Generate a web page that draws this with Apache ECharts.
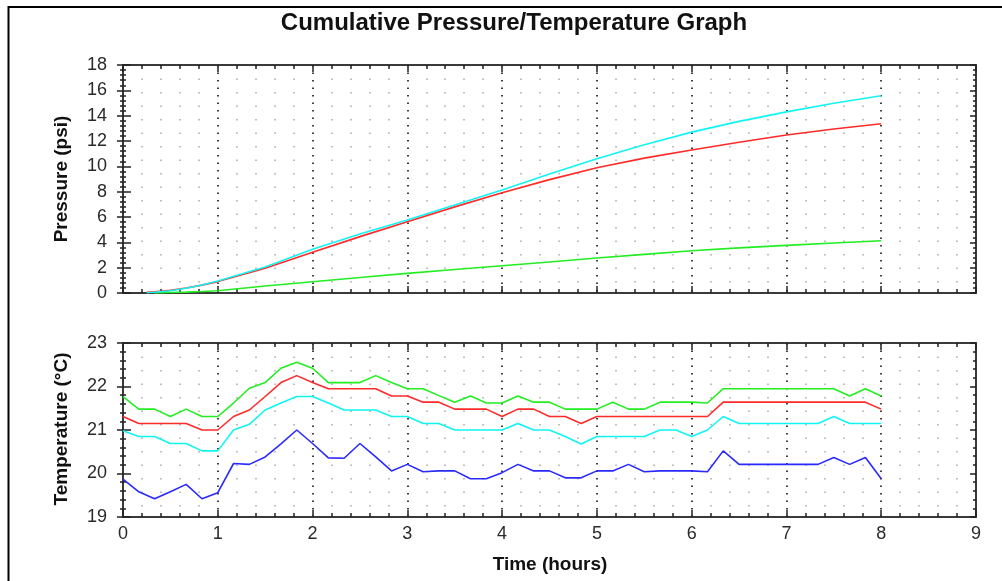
<!DOCTYPE html>
<html><head><meta charset="utf-8">
<script src="https://cdn.jsdelivr.net/npm/echarts@6/dist/echarts.min.js"></script>
<style>html,body{margin:0;padding:0;background:#fff}#c{width:1002px;height:581px}</style>
</head><body><div id="c"></div>
<script>
// ---- data ----
const pressureHours = [0.25,0.333,0.5,0.667,0.833,1,1.5,2,2.5,3,3.5,4,4.5,5,5.5,6,6.5,7,7.5,8];
const pressureCyan  = [0.02,0.06,0.18,0.38,0.63,0.95,2.05,3.45,4.65,5.76,6.95,8.13,9.4,10.6,11.7,12.7,13.55,14.3,14.98,15.57];
const pressureRed   = [0.05,0.1,0.22,0.4,0.62,0.9,1.95,3.21,4.45,5.63,6.8,7.92,8.95,9.89,10.65,11.29,11.9,12.47,12.95,13.36];
const pressureGreen = [null,0.01,0.04,0.07,0.12,0.18,0.55,0.89,1.22,1.55,1.85,2.15,2.45,2.76,3.05,3.34,3.56,3.76,3.95,4.13];

const tempMinutes = [0,10,20,30,40,50,60,70,80,90,100,110,120,130,140,150,160,170,180,190,200,210,220,230,240,250,260,270,280,290,300,310,320,330,340,350,360,370,380,390,400,410,420,430,440,450,460,470,480];
const tempGreen = [21.77,21.48,21.48,21.31,21.48,21.31,21.31,21.62,21.96,22.09,22.42,22.56,22.42,22.09,22.09,22.09,22.25,22.09,21.95,21.95,21.79,21.64,21.78,21.62,21.62,21.78,21.64,21.64,21.48,21.48,21.48,21.64,21.48,21.48,21.64,21.64,21.64,21.62,21.95,21.95,21.95,21.95,21.95,21.95,21.95,21.95,21.78,21.95,21.78];
const tempRed   = [21.31,21.15,21.15,21.15,21.15,21.0,21.0,21.31,21.46,21.77,22.09,22.25,22.09,21.95,21.95,21.95,21.95,21.78,21.78,21.64,21.64,21.48,21.48,21.48,21.31,21.48,21.48,21.31,21.31,21.15,21.31,21.31,21.31,21.31,21.31,21.31,21.31,21.31,21.64,21.64,21.64,21.64,21.64,21.64,21.64,21.64,21.64,21.64,21.48];
const tempCyan  = [20.98,20.85,20.85,20.69,20.69,20.52,20.52,21.0,21.13,21.46,21.62,21.77,21.77,21.62,21.46,21.46,21.46,21.31,21.31,21.15,21.15,21.0,21.0,21.0,21.0,21.15,21.0,21.0,20.85,20.68,20.85,20.85,20.85,20.85,21.0,21.0,20.85,21.0,21.31,21.15,21.15,21.15,21.15,21.15,21.15,21.31,21.15,21.15,21.15];
const tempBlue  = [19.87,19.58,19.42,19.58,19.75,19.42,19.56,20.23,20.21,20.38,20.68,21.0,20.69,20.36,20.35,20.69,20.38,20.06,20.21,20.04,20.06,20.06,19.88,19.88,20.02,20.21,20.06,20.06,19.9,19.9,20.06,20.06,20.21,20.04,20.06,20.06,20.06,20.04,20.52,20.21,20.21,20.21,20.21,20.21,20.21,20.37,20.21,20.37,19.88];

const titleText = 'Cumulative Pressure/Temperature Graph';
const pressureName = 'Pressure (psi)';
const tempName = 'Temperature (°C)';
const timeName = 'Time (hours)';

// ---- chart ----
const FONT = '"Liberation Sans", Arial, sans-serif';
const AX = '#3a3a3a';
const TK = '#222';

function pairs(xs, ys, scale) { return xs.map((x, i) => [x / scale, ys[i]]); }

function xAx(g, pos, labels) {
  return {
    gridIndex: g, type: 'value', min: 0, max: 9, interval: 1, position: pos,
    axisLine: { show: true, onZero: false, lineStyle: { color: AX, width: 2 } },
    axisTick: { show: true, inside: true, length: 7, lineStyle: { color: TK, width: 1.5 } },
    minorTick: { show: true, splitNumber: 5, length: 4, lineStyle: { color: TK, width: 1.5 } },
    axisLabel: { show: labels, color: '#2a2a2a', fontFamily: FONT, fontSize: 18, margin: 8 },
    splitLine: { show: pos === 'bottom', lineStyle: { color: '#000', width: 1.5, type: [1.5, 6] } },
    minorSplitLine: { show: pos === 'bottom', lineStyle: { color: '#a8a8a8', width: 1.5, type: [1.5, 12] } }
  };
}
function yAx(g, pos, min, max, interval, mode) {
  const inside = mode !== 'out';
  const major = mode === 'in' ? 8 : 6;
  return {
    gridIndex: g, type: 'value', min, max, interval, position: pos,
    axisLine: { show: mode !== 'in', onZero: false, lineStyle: { color: AX, width: 2 } },
    axisTick: { show: true, inside, length: major, lineStyle: { color: TK, width: 1.5 } },
    minorTick: { show: true, splitNumber: 5, length: 3, lineStyle: { color: TK, width: 1.5 } },
    axisLabel: { show: mode === 'out', color: '#2a2a2a', fontFamily: FONT, fontSize: 18, margin: 16 },
    splitLine: { show: false }, minorSplitLine: { show: false }
  };
}
function line(name, data, color, xi, yi) {
  return { name, type: 'line', data, xAxisIndex: xi, yAxisIndex: yi, showSymbol: false, symbol: 'none',
    lineStyle: { color, width: 1.6 }, itemStyle: { color }, connectNulls: false, z: 3 };
}

const chart = echarts.init(document.getElementById('c'), null, { renderer: 'canvas' });
chart.setOption({
  animation: false,
  backgroundColor: '#fff',
  title: { text: titleText, left: 509, top: 6, textAlign: 'center',
    textStyle: { fontFamily: FONT, fontWeight: 'bold', fontSize: 24, color: '#111' } },
  grid: [
    { left: 123, top: 65, width: 853, height: 228 },
    { left: 123, top: 343, width: 853, height: 174 }
  ],
  xAxis: [ xAx(0, 'bottom', false), xAx(0, 'top', false), xAx(1, 'bottom', true), xAx(1, 'top', false) ],
  yAxis: [
    yAx(0, 'left', 0, 18, 2, 'out'), yAx(0, 'left', 0, 18, 2, 'in'), yAx(0, 'right', 0, 18, 2, 'right'),
    yAx(1, 'left', 19, 23, 1, 'out'), yAx(1, 'left', 19, 23, 1, 'in'), yAx(1, 'right', 19, 23, 1, 'right')
  ],
  graphic: [
    { type: 'rect', shape: { x: 8.5, y: 7, width: 1200, height: 1200 }, style: { fill: 'none', stroke: '#000', lineWidth: 2 }, silent: true },
    { type: 'text', x: 62, y: 179, rotation: Math.PI / 2,
      style: { text: pressureName, font: 'bold 19px ' + FONT, fill: '#111', align: 'center', verticalAlign: 'middle', textAlign: 'center', textVerticalAlign: 'middle' } },
    { type: 'text', x: 62, y: 429, rotation: Math.PI / 2,
      style: { text: tempName, font: 'bold 19px ' + FONT, fill: '#111', align: 'center', verticalAlign: 'middle', textAlign: 'center', textVerticalAlign: 'middle' } },
    { type: 'text', x: 550, y: 565,
      style: { text: timeName, font: 'bold 19px ' + FONT, fill: '#111', align: 'center', verticalAlign: 'middle', textAlign: 'center', textVerticalAlign: 'middle' } }
  ],
  series: [
    line('P green', pairs(pressureHours, pressureGreen, 1), '#22ee22', 0, 0),
    line('P red', pairs(pressureHours, pressureRed, 1), '#ff2a2a', 0, 0),
    line('P cyan', pairs(pressureHours, pressureCyan, 1), '#11f4f4', 0, 0),
    line('T green', pairs(tempMinutes, tempGreen, 60), '#22ee22', 2, 3),
    line('T red', pairs(tempMinutes, tempRed, 60), '#ff2a2a', 2, 3),
    line('T cyan', pairs(tempMinutes, tempCyan, 60), '#11f4f4', 2, 3),
    line('T blue', pairs(tempMinutes, tempBlue, 60), '#2a2aff', 2, 3)
  ]
});
</script></body></html>
